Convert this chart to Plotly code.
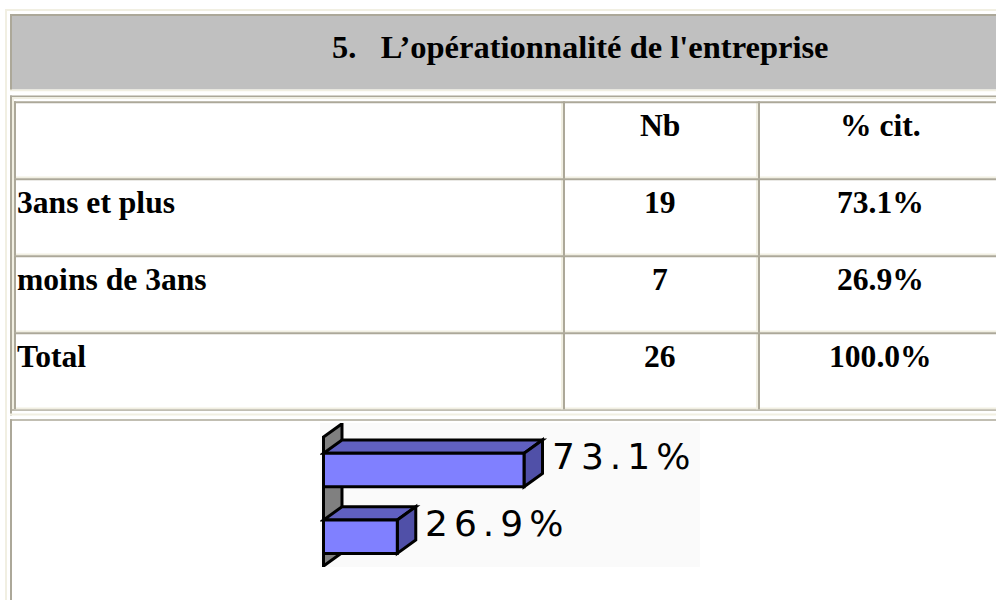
import plotly.graph_objects as go

# ---------------- data ----------------
title_text = "5.\u00a0\u00a0\u00a0L\u2019opérationnalité de l'entreprise"
column_headers = ["", "Nb", "% cit."]
categories = ["3ans et plus", "moins de 3ans"]
counts = [19, 7]
percents = [73.1, 26.9]
total_label = "Total"
total_count = 26
total_percent = 100.0

# ---------------- page geometry helpers ----------------
W, H = 996, 600


def px(x):
    return x / W


def py(y):
    return 1 - y / H


DARK = "#ACA899"
LIGHT = "#F1EFE2"
GRAY = "#C0C0C0"
shapes = []
annotations = []


def band(x0, y0, x1, y1, color):
    shapes.append(dict(type="rect", xref="paper", yref="paper",
                       x0=px(x0), x1=px(x1), y0=py(y1), y1=py(y0),
                       fillcolor=color, line=dict(width=0), layer="below"))


# outer table (outset, light top/left)
band(5, 9, 1000, 11, LIGHT)
band(5, 9, 7, 600, LIGHT)
# header cell (gray, inset)
band(12, 16, 1000, 89.5, GRAY)
band(10, 14, 1000, 16, DARK)
band(10, 14, 12, 91, DARK)
band(10, 89.5, 1000, 91.2, LIGHT)
# second row cell of outer table (inset)
band(10, 95.5, 1000, 97.2, DARK)
band(10, 95.5, 12, 415.5, DARK)
band(10, 413.5, 1000, 415.5, LIGHT)
# nested table (outset)
band(12, 97.2, 1000, 99, LIGHT)
band(12, 97.2, 14, 410.7, LIGHT)
band(12, 409.3, 1000, 410.7, DARK)
# nested table cells (inset)
row_tops = [101.3, 178.3, 255.3, 332.3]
row_bottoms = [178.3, 255.3, 332.3, 409.3]
col_lefts = [14, 563, 758]
col_rights = [563, 758, 1004]
for t, b in zip(row_tops, row_bottoms):
    for l, r in zip(col_lefts, col_rights):
        band(l, b - 1.7, r, b, LIGHT)
        band(r - 2, t, r, b, LIGHT)
        band(l, t, r, t + 2, DARK)
        band(l, t, l + 2, b, DARK)
# third row of outer table (chart cell)
band(10, 419.3, 1000, 420.8, DARK)
band(10, 419.3, 12, 600, DARK)

# ---------------- texts ----------------
SERIF = "Liberation Serif, Times New Roman, serif"


def txt(x, y, s, anchor="center", size=31.6):
    annotations.append(dict(xref="paper", yref="paper", x=px(x), y=py(y),
                            text="<b>" + s + "</b>", showarrow=False,
                            xanchor=anchor, yanchor="middle",
                            font=dict(family=SERIF, size=size, color="black")))


txt(580, 47, title_text, size=32.5)
col_centers = [15, 660, 880]
text_offset = 24
rows = [column_headers] + [[c, str(n), f"{p:.1f}%"] for c, n, p in zip(categories, counts, percents)] \
    + [[total_label, str(total_count), f"{total_percent:.1f}%"]]
for t, row in zip(row_tops, rows):
    for k, s in enumerate(row):
        if not s:
            continue
        txt(col_centers[k], t + text_offset, s, anchor="left" if k == 0 else "center")

# ---------------- 3D bar chart ----------------
ypos = [len(categories) - 1 - i for i in range(len(categories))]
BAR_W = 0.5
DX = 6.74   # depth offset (x units)
DY = 0.2    # depth offset (y units)
FRONT = "#8080FF"
TOP = "#6060C0"
SIDE = "#5050A8"

# back wall
shapes.append(dict(type="path", xref="x", yref="y", layer="below",
                   path=f"M 0,-0.44 L 0,1.495 L {DX},{1.495 + DY} L {DX},{-0.44 + DY} Z",
                   fillcolor="#808080", line=dict(color="black", width=3)))
for v, c in zip(percents, ypos):
    top = c + BAR_W / 2
    bot = c - BAR_W / 2
    shapes.append(dict(type="path", xref="x", yref="y", layer="below",
                       path=f"M 0,{top} L {v},{top} L {v + DX},{top + DY} L {DX},{top + DY} Z",
                       fillcolor=TOP, line=dict(color="black", width=3)))
    shapes.append(dict(type="path", xref="x", yref="y", layer="below",
                       path=f"M {v},{bot} L {v},{top} L {v + DX},{top + DY} L {v + DX},{bot + DY} Z",
                       fillcolor=SIDE, line=dict(color="black", width=3)))
    annotations.append(dict(xref="x", yref="y", x=v + DX, y=c + DY,
                            text=f'<span style="letter-spacing:6px">{v:.1f}%</span>',
                            showarrow=False, xanchor="left", yanchor="middle", xshift=7,
                            font=dict(family="DejaVu Sans", size=36, color="black")))

fig = go.Figure(go.Bar(x=percents, y=ypos, orientation="h", width=BAR_W, base=0,
                       marker=dict(color=FRONT, line=dict(color="black", width=3)),
                       hoverinfo="skip"))

fig.update_layout(
    width=W, height=H, autosize=False,
    margin=dict(l=0, r=0, t=0, b=0, pad=0),
    paper_bgcolor="white", plot_bgcolor="#FAFAFA",
    showlegend=False,
    shapes=shapes, annotations=annotations,
    xaxis=dict(domain=[px(320), px(700)], range=[-1.276, 137.26], visible=False, fixedrange=True),
    yaxis=dict(domain=[py(567), py(423)], range=[-0.454, 1.705], visible=False, fixedrange=True),
)

fig.write_html("out.html", config={"displayModeBar": False},
               post_script="document.body.style.margin='0';document.body.style.overflow='hidden';")
